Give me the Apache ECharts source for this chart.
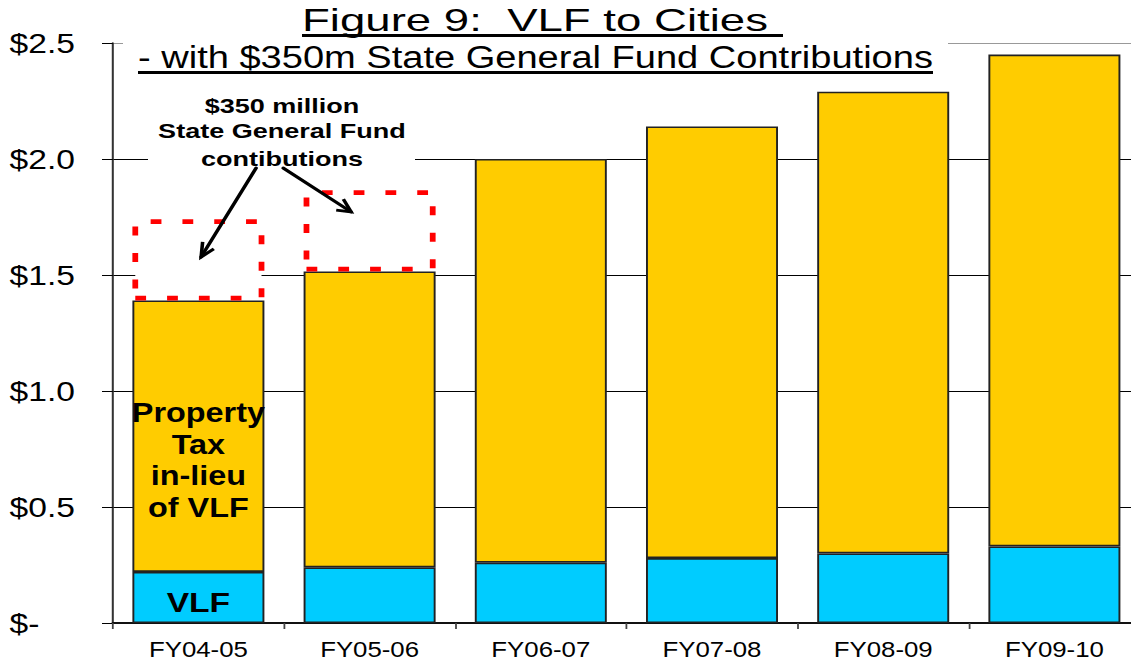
<!DOCTYPE html>
<html>
<head>
<meta charset="utf-8">
<script src="https://cdn.jsdelivr.net/npm/echarts@6/dist/echarts.min.js"></script>
<style>
html, body { margin:0; padding:0; background:#fff; overflow:hidden; width:1131px; height:664px; }
#main { width:950px; height:664px; transform:scaleX(1.2); transform-origin:0 0; }
</style>
</head>
<body>
<div id="main"></div>
<script>
// ---- data ----
const categories = ['FY04-05', 'FY05-06', 'FY06-07', 'FY07-08', 'FY08-09', 'FY09-10'];
const vlf = [0.22, 0.24, 0.26, 0.28, 0.30, 0.33];
const propertyTax = [1.17, 1.275, 1.74, 1.86, 1.99, 2.12];
const stateGeneralFund = [0.35, 0.35, '-', '-', '-', '-'];
const yTickValues = [0, 0.5, 1.0, 1.5, 2.0, 2.5];
const titleText = 'Figure 9:  VLF to Cities ';
const subtitleText = '- with $350m State General Fund Contributions';
const noteLines = ['$350 million', 'State General Fund', 'contibutions'];

// ---- layout / style ----
const SX = 1.2; // horizontal stretch applied to the whole chart
const FF = '"Liberation Sans", Arial, Helvetica, sans-serif';
const chart = echarts.init(document.getElementById('main'), null, { renderer: 'svg' });

function measure(text, font) {
  const c = document.createElement('canvas').getContext('2d');
  c.font = font;
  return c.measureText(text).width;
}

const option = {
  animation: false,
  backgroundColor: '#fff',
  grid: { left: 94, right: 0, top: 43, bottom: 41, outerBoundsMode: 'none', containLabel: false },
  xAxis: {
    type: 'category',
    data: categories,
    boundaryGap: true,
    axisLine: { show: true, lineStyle: { color: '#111', width: 2 } },
    axisTick: { show: true, length: 6, lineStyle: { color: '#444', width: 1.5 } },
    axisLabel: { interval: 0, fontSize: 21.5, color: '#000', fontFamily: FF, margin: 16 },
    splitLine: { show: false }
  },
  yAxis: {
    type: 'value',
    min: 0, max: 2.5, interval: 0.5,
    axisLine: { show: true, onZero: false, lineStyle: { color: '#333', width: 1.7 } },
    axisTick: { show: true, length: 9, lineStyle: { color: '#000', width: 1 } },
    axisLabel: {
      showMinLabel: true, showMaxLabel: true,
      align: 'left', margin: 86, fontSize: 28, color: '#000', fontFamily: FF,
      formatter: v => {
        const t = yTickValues.find(x => Math.abs(x - v) < 1e-9);
        return t === 0 ? '$-' : '$' + (t !== undefined ? t : v).toFixed(1);
      }
    },
    splitLine: { show: true, lineStyle: { color: ['#000', '#000', '#000', '#000', '#000', '#999'], width: 1 } }
  },
  series: [
    {
      name: 'VLF', type: 'bar', stack: 'total', data: vlf, barWidth: 110, silent: true,
      itemStyle: { color: '#00CCFF', borderColor: '#222', borderWidth: 1.6 },
      label: {
        show: true, position: 'inside', offset: [0, 5],
        formatter: p => p.dataIndex === 0 ? 'VLF' : '',
        fontSize: 28, fontWeight: 'bold', color: '#000', fontFamily: FF
      }
    },
    {
      name: 'Property Tax in-lieu of VLF', type: 'bar', stack: 'total', data: propertyTax, barWidth: 110, silent: true,
      itemStyle: { color: '#FFCC00', borderColor: '#222', borderWidth: 1.6 },
      label: {
        show: true, position: 'inside', offset: [0, 24],
        formatter: p => p.dataIndex === 0 ? 'Property\nTax\nin-lieu\nof VLF' : '',
        fontSize: 27, lineHeight: 31.5, fontWeight: 'bold', color: '#000', fontFamily: FF
      }
    },
    {
      name: '$350 million State General Fund contributions', type: 'bar', stack: 'total', data: stateGeneralFund, barWidth: 110, silent: true,
      itemStyle: { color: '#fff', borderColor: '#FF0000', borderWidth: 4.8, borderType: [9, 17.5] }
    }
  ]
};
chart.setOption(option);

// ---- annotations ----
const band = chart.convertToPixel({ xAxisIndex: 0 }, 1) - chart.convertToPixel({ xAxisIndex: 0 }, 0);
function pt(cat, val, frac) {
  const p = chart.convertToPixel({ gridIndex: 0 }, [cat, val]);
  return [p[0] + frac * band, p[1]];
}
function arrow(tail, head) {
  const tr = [tail[0] * SX, tail[1]], hr = [head[0] * SX, head[1]];
  const ang = Math.atan2(tr[1] - hr[1], tr[0] - hr[0]);
  const L = 15, a = 26 * Math.PI / 180;
  const p1 = [(hr[0] + L * Math.cos(ang + a)) / SX, hr[1] + L * Math.sin(ang + a)];
  const p2 = [(hr[0] + L * Math.cos(ang - a)) / SX, hr[1] + L * Math.sin(ang - a)];
  return [
    { type: 'line', z: 20, shape: { x1: tail[0], y1: tail[1], x2: head[0], y2: head[1] }, style: { stroke: '#000', lineWidth: 3, lineCap: 'round' } },
    { type: 'polyline', z: 20, shape: { points: [p1, head, p2] }, style: { stroke: '#000', lineWidth: 3, fill: null, lineJoin: 'miter' } }
  ];
}

const titleFont = '31px ' + FF;
const titleScale = (466 / SX) / measure('Figure 9:  VLF to Cities', titleFont);
const subScale = (795 / SX) / measure(subtitleText, titleFont);
const noteFont = 'bold 20px ' + FF;
const noteScale = (248 / SX) / measure('State General Fund', noteFont);

const graphics = [
  { type: 'rect', z: 10, shape: { x: 123 / SX, y: 36, width: (948 - 123) / SX, height: 13 }, style: { fill: '#fff' } },
  { type: 'rect', z: 10, shape: { x: 148 / SX, y: 88, width: (415 - 148) / SX, height: 78 }, style: { fill: '#fff' } },
  { type: 'text', z: 21, x: 302 / SX, y: 20, scaleX: titleScale,
    style: { text: titleText, font: titleFont, fill: '#000', align: 'left', verticalAlign: 'middle', textAlign: 'left', textVerticalAlign: 'middle' } },
  { type: 'line', z: 21, shape: { x1: 302 / SX, y1: 35.5, x2: 783 / SX, y2: 35.5 }, style: { stroke: '#000', lineWidth: 3 } },
  { type: 'text', z: 21, x: 138 / SX, y: 57, scaleX: subScale,
    style: { text: subtitleText, font: titleFont, fill: '#000', align: 'left', verticalAlign: 'middle', textAlign: 'left', textVerticalAlign: 'middle' } },
  { type: 'line', z: 21, shape: { x1: 138 / SX, y1: 72.5, x2: 933 / SX, y2: 72.5 }, style: { stroke: '#000', lineWidth: 3 } }
];
const noteY = [106, 131, 158.5];
noteLines.forEach((t, i) => {
  graphics.push({ type: 'text', z: 21, x: 282 / SX, y: noteY[i], scaleX: noteScale,
    style: { text: t, font: noteFont, fill: '#000', align: 'center', verticalAlign: 'middle', textAlign: 'center', textVerticalAlign: 'middle' } });
});
graphics.push(...arrow(pt(0, 1.961, 0.337), pt(0, 1.578, 0.016)));
graphics.push(...arrow(pt(0, 1.961, 0.495), pt(1, 1.772, -0.108)));

chart.setOption({ graphic: { elements: graphics } });
</script>
</body>
</html>
